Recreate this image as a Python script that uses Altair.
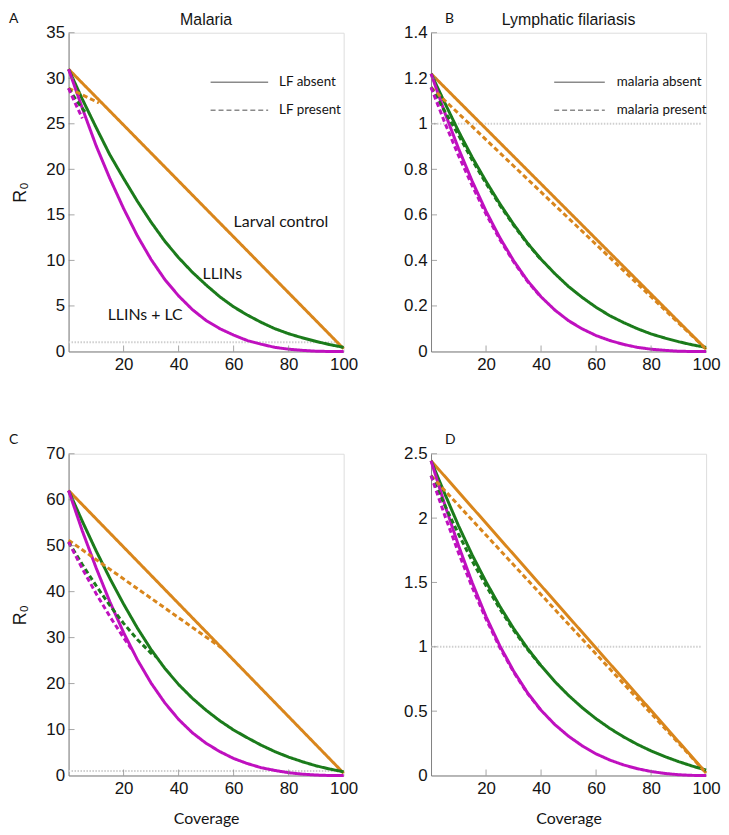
import altair as alt
import pandas as pd

# ---------------- data ----------------
coverage = [0, 5, 10, 15, 20, 25, 30, 35, 40, 45, 50, 55, 60, 65, 70, 75, 80, 85, 90, 95, 100]
ends = [0, 100]
early = [0, 5, 10, 15, 20, 25, 30, 35, 40]
x_tick_labels = [20, 40, 60, 80, 100]

interventions = ["Larval control", "LLINs", "LLINs + LC"]
colors = ["#D9861C", "#1B7B1B", "#BF10BF"]

# Panel A: malaria (LF absent / LF present)
A_larval = [31.0, 0.3]
A_llin = [31.0, 27.7, 24.6, 21.6, 19.0, 16.5, 14.2, 12.1, 10.3, 8.7, 7.3,
          6.0, 4.9, 4.0, 3.2, 2.5, 1.95, 1.5, 1.1, 0.75, 0.45]
A_combo = [31.0, 26.7, 22.6, 19.0, 15.7, 12.7, 10.1, 7.9, 6.1, 4.6, 3.4,
           2.5, 1.8, 1.2, 0.8, 0.45, 0.25, 0.12, 0.03, 0.0, 0.0]
A_larval_dash_x = [0, 11]
A_larval_dash = [28.9, 27.3]
A_llin_dash_x = [0, 3, 6]
A_llin_dash = [28.9, 27.5, 26.3]
A_combo_dash_x = [0, 2.5, 5]
A_combo_dash = [28.9, 27.2, 25.6]

# Panel B: lymphatic filariasis (malaria absent / malaria present)
B_larval = [1.22, 0.01]
B_llin = [1.220, 1.092, 0.967, 0.852, 0.747, 0.649, 0.559, 0.477, 0.405, 0.342, 0.285,
          0.237, 0.194, 0.157, 0.127, 0.100, 0.077, 0.059, 0.043, 0.029, 0.018]
B_combo = [1.220, 1.049, 0.891, 0.747, 0.616, 0.500, 0.399, 0.312, 0.240, 0.182, 0.135,
           0.099, 0.070, 0.048, 0.031, 0.018, 0.010, 0.005, 0.001, 0.0, 0.0]
B_larval_dash = [1.16, 0.01]
B_llin_dash = [1.16, 1.055, 0.950, 0.840, 0.738, 0.643, 0.555, 0.474, 0.403]
B_combo_dash = [1.16, 1.005, 0.860, 0.727, 0.603, 0.492, 0.394, 0.309, 0.238]

# Panel C: malaria, higher transmission
C_larval = [62.0, 0.5]
C_llin = [62.0, 55.3, 48.9, 42.9, 37.3, 32.1, 27.4, 23.3, 19.8, 16.8, 14.2,
          11.9, 9.9, 8.2, 6.6, 5.2, 4.0, 3.0, 2.1, 1.4, 0.8]
C_combo = [62.0, 53.2, 45.2, 37.8, 31.1, 25.2, 20.1, 15.8, 12.2, 9.3, 7.0,
           5.2, 3.7, 2.6, 1.7, 1.1, 0.6, 0.3, 0.1, 0.0, 0.0]
C_larval_dash_x = [0, 55.5]
C_larval_dash = [51.2, 27.8]
C_llin_dash_x = [0, 5, 10, 15, 20, 25, 30, 32]
C_llin_dash = [50.8, 45.9, 41.3, 37.0, 33.1, 29.6, 26.6, 25.8]
C_combo_dash_x = [0, 5, 10, 15, 20, 23]
C_combo_dash = [50.8, 45.0, 39.6, 34.6, 30.0, 27.4]

# Panel D: lymphatic filariasis, higher transmission
D_larval = [2.446, 0.02]
D_llin = [2.446, 2.189, 1.940, 1.712, 1.505, 1.315, 1.143, 0.990, 0.853, 0.730, 0.622,
          0.526, 0.441, 0.366, 0.300, 0.242, 0.191, 0.147, 0.108, 0.073, 0.042]
D_combo = [2.446, 2.104, 1.786, 1.497, 1.235, 1.008, 0.812, 0.645, 0.507, 0.396, 0.305,
           0.230, 0.168, 0.120, 0.082, 0.053, 0.031, 0.016, 0.006, 0.001, 0.0]
D_larval_dash = [2.33, 0.02]
D_llin_dash = [2.33, 2.10, 1.875, 1.665, 1.475, 1.295, 1.130, 0.982, 0.850]
D_combo_dash = [2.33, 2.02, 1.73, 1.46, 1.215, 0.995, 0.805, 0.640, 0.505]

threshold_value = 1
threshold_x = [0, 98.5]

A_notes = ["Larval control", "LLINs", "LLINs + LC"]
A_notes_x = [60, 48.7, 14.2]
A_notes_y = [14.2, 8.5, 4.0]

# ---------------- styling ----------------
AXIS_GREY = "#808080"
TEXT = "#141414"
W = 277


def add(rows, intervention, status, xs, ys):
    for x, y in zip(xs, ys):
        rows.append({"x": x, "y": y, "intervention": intervention,
                     "status": status, "series": intervention + " | " + status})


def panel(rows, absent, present, ymax, yticks, yfmt, height, letter, letter_x,
          title=None, legend=None, ytitle="", xtitle="", notes=None):
    df = pd.DataFrame(rows)
    xscale = alt.Scale(domain=[0, 100], nice=False, zero=False)
    yscale = alt.Scale(domain=[0, ymax], nice=False, zero=True)
    xaxis = alt.Axis(values=x_tick_labels, labelFlush=False, labelOverlap=False,
                     ticks=False, grid=False, domainColor=AXIS_GREY, domainWidth=1,
                     labelFont="Liberation Sans", labelFontSize=17, labelColor=TEXT,
                     labelPadding=5, title=xtitle, titleFont="Lato", titleFontSize=16,
                     titleFontWeight="normal", titleColor=TEXT, titlePadding=14)
    yaxis = alt.Axis(values=yticks, format=yfmt, labelFlush=False, labelOverlap=False,
                     ticks=False, grid=False, domainColor=AXIS_GREY, domainWidth=1,
                     labelFont="Liberation Sans", labelFontSize=17, labelColor=TEXT,
                     labelPadding=4, title=ytitle, titleFont="Liberation Sans",
                     titleFontSize=18, titleFontWeight="normal", titleColor=TEXT,
                     titlePadding=16)

    dash_scale = alt.Scale(domain=[absent, present], range=[[1, 0], [5, 3]])
    if legend is not None:
        dash = alt.StrokeDash("status:N", scale=dash_scale, legend=legend)
    else:
        dash = alt.StrokeDash("status:N", scale=dash_scale, legend=None)

    thr = alt.Chart(pd.DataFrame({"x": [threshold_x[0]], "x2": [threshold_x[1]],
                                  "y": [threshold_value]})).mark_rule(
        color="#cfcfcf", strokeWidth=2, strokeDash=[1.5, 1.5]).encode(
        x=alt.X("x:Q", scale=xscale, axis=xaxis),
        x2="x2:Q",
        y=alt.Y("y:Q", scale=yscale, axis=yaxis))

    lines = alt.Chart(df).mark_line(strokeWidth=3).encode(
        x=alt.X("x:Q", scale=xscale, axis=xaxis),
        y=alt.Y("y:Q", scale=yscale, axis=yaxis),
        color=alt.Color("intervention:N",
                        scale=alt.Scale(domain=interventions, range=colors), legend=None),
        strokeDash=dash,
        detail="series:N",
        order="x:Q")

    yt = alt.Chart(pd.DataFrame({"y": [v for v in yticks if v > 0]})).mark_tick(
        orient="horizontal", size=6, thickness=1, color=AXIS_GREY).encode(
        y=alt.Y("y:Q", scale=yscale, axis=yaxis), x=alt.value(3))
    xt = alt.Chart(pd.DataFrame({"x": x_tick_labels[:-1]})).mark_tick(
        orient="vertical", size=6, thickness=1, color=AXIS_GREY).encode(
        x=alt.X("x:Q", scale=xscale, axis=xaxis), y=alt.value(height - 3))

    let = alt.Chart(pd.DataFrame({"t": [letter]})).mark_text(
        align="left", baseline="middle", font="Lato", fontSize=14, color=TEXT).encode(
        x=alt.value(letter_x), y=alt.value(-14), text="t:N")

    layers = [thr, lines, yt, xt, let]
    if title is not None:
        ttl = alt.Chart(pd.DataFrame({"t": [title]})).mark_text(
            align="center", baseline="middle", font="Liberation Sans", fontSize=16,
            color=TEXT).encode(x=alt.value(W / 2), y=alt.value(-13), text="t:N")
        layers.append(ttl)
    if notes is not None:
        nt = alt.Chart(notes).mark_text(align="left", baseline="middle", font="Lato",
                                        fontSize=16, color=TEXT).encode(
            x=alt.X("x:Q", scale=xscale, axis=xaxis),
            y=alt.Y("y:Q", scale=yscale, axis=yaxis), text="t:N")
        layers.append(nt)

    return alt.layer(*layers).properties(width=W, height=height)


def legend_for(x, path, offset):
    return alt.Legend(title=None, orient="none", legendX=x, legendY=35,
                      direction="vertical", symbolType=path, symbolSize=784,
                      symbolStrokeWidth=1.5, symbolStrokeColor="#8a8a8a",
                      labelFont="Lato", labelFontSize=13.5, labelColor=TEXT,
                      labelOffset=offset, rowPadding=6, padding=0, offset=0)


# ---- panel A
rA = []
add(rA, "Larval control", "LF absent", ends, A_larval)
add(rA, "LLINs", "LF absent", coverage, A_llin)
add(rA, "LLINs + LC", "LF absent", coverage, A_combo)
add(rA, "Larval control", "LF present", A_larval_dash_x, A_larval_dash)
add(rA, "LLINs", "LF present", A_llin_dash_x, A_llin_dash)
add(rA, "LLINs + LC", "LF present", A_combo_dash_x, A_combo_dash)
notesA = pd.DataFrame({"t": A_notes, "x": A_notes_x, "y": A_notes_y})
pA = panel(rA, "LF absent", "LF present", 35, [0, 5, 10, 15, 20, 25, 30, 35], "d", 321,
           "A", -60, title="Malaria",
           legend=legend_for(157, "M-2.07,0H2.07", 25), ytitle="R₀", notes=notesA)

# ---- panel B
rB = []
add(rB, "Larval control", "malaria absent", ends, B_larval)
add(rB, "LLINs", "malaria absent", coverage, B_llin)
add(rB, "LLINs + LC", "malaria absent", coverage, B_combo)
add(rB, "Larval control", "malaria present", ends, B_larval_dash)
add(rB, "LLINs", "malaria present", early, B_llin_dash)
add(rB, "LLINs + LC", "malaria present", early, B_combo_dash)
pB = panel(rB, "malaria absent", "malaria present", 1.4,
           [0, 0.2, 0.4, 0.6, 0.8, 1, 1.2, 1.4], "~g", 321, "B", 14,
           title="Lymphatic filariasis", legend=legend_for(134.5, "M-1.82,0H1.82", 22.5))

# ---- panel C
rC = []
add(rC, "Larval control", "LF absent", ends, C_larval)
add(rC, "LLINs", "LF absent", coverage, C_llin)
add(rC, "LLINs + LC", "LF absent", coverage, C_combo)
add(rC, "Larval control", "LF present", C_larval_dash_x, C_larval_dash)
add(rC, "LLINs", "LF present", C_llin_dash_x, C_llin_dash)
add(rC, "LLINs + LC", "LF present", C_combo_dash_x, C_combo_dash)
pC = panel(rC, "LF absent", "LF present", 70, [0, 10, 20, 30, 40, 50, 60, 70], "d", 324,
           "C", -60, ytitle="R₀", xtitle="Coverage")

# ---- panel D
rD = []
add(rD, "Larval control", "malaria absent", ends, D_larval)
add(rD, "LLINs", "malaria absent", coverage, D_llin)
add(rD, "LLINs + LC", "malaria absent", coverage, D_combo)
add(rD, "Larval control", "malaria present", ends, D_larval_dash)
add(rD, "LLINs", "malaria present", early, D_llin_dash)
add(rD, "LLINs + LC", "malaria present", early, D_combo_dash)
pD = panel(rD, "malaria absent", "malaria present", 2.5, [0, 0.5, 1, 1.5, 2, 2.5], "~g",
           324, "D", 14, xtitle="Coverage")

chart = alt.concat(pA, pB, pC, pD, columns=2,
                   spacing={"row": 103, "column": 88}, bounds="flush").resolve_scale(
    x="independent", y="independent", strokeDash="independent").resolve_legend(
    strokeDash="independent").properties(
    padding={"left": 0, "top": 0, "right": 0, "bottom": 0}).configure_view(
    strokeWidth=0).configure(background="white")

chart.save("out.html", embed_options={"renderer": "svg", "actions": False})
